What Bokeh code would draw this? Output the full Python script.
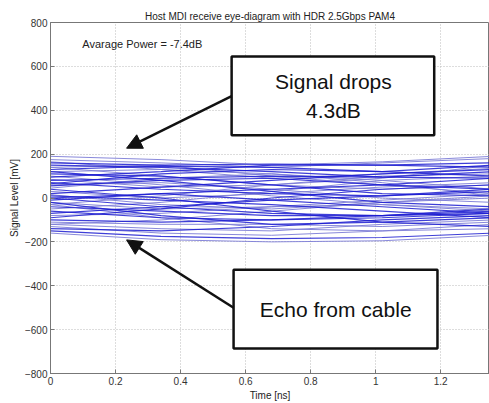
from bokeh.plotting import figure
from bokeh.embed import file_html
from bokeh.resources import INLINE
from bokeh.models import Arrow, NormalHead, BoxAnnotation, Label, FixedTicker

title_text = "Host MDI receive eye-diagram with HDR 2.5Gbps PAM4"
x_label = "Time [ns]"
y_label = "Signal Level [mV]"
power_note = "Avarage Power = -7.4dB"
note_top = "Signal drops\n4.3dB"
note_bottom = "Echo from cable"

x_ticks = [0, 0.2, 0.4, 0.6, 0.8, 1.0, 1.2]
y_ticks = [-800, -600, -400, -200, 0, 200, 400, 600, 800]

# knot times of each trace (ns)
knot_t = [0.0, 0.34, 0.68, 1.02, 1.36]

# traces (mV at knot times)
traces_dark = [
    [160, 150, 155, 150, 160],
    [150, 140, 120, 95, 90],
    [95, 120, 150, 150, 140],
    [80, 90, 100, 95, 120],
    [70, 40, 20, 10, 30],
    [55, 80, 90, 60, 40],
    [20, 50, 80, 110, 130],
    [10, -10, -30, -60, -90],
    [0, -40, -70, -80, -70],
    [-10, 20, 40, 60, 90],
    [-40, -60, -80, -80, -60],
    [-60, -90, -100, -90, -70],
    [-70, -40, -10, 10, 40],
    [-100, -110, -100, -80, -50],
    [-140, -150, -130, -100, -80],
    [-150, -175, -185, -180, -160],
    [120, 80, 30, -20, -40],
    [40, 0, -60, -110, -130],
    [110, 100, 60, 20, 10],
    [-20, -80, -120, -110, -90],
    [65, 110, 130, 120, 100],
    [-90, -50, 0, 40, 60],
    [0, 20, -10, -40, -70],
    [130, 145, 140, 120, 150],
]
traces_light = [
    [190, 175, 150, 165, 190],
    [175, 160, 140, 160, 180],
    [140, 100, 60, 40, 60],
    [120, 130, 110, 80, 40],
    [100, 60, 10, -30, -50],
    [60, 70, 40, 0, -20],
    [30, 0, 20, 50, 70],
    [-20, -50, -40, -10, 20],
    [-30, 10, 60, 100, 110],
    [-80, -70, -40, -30, -60],
    [-110, -120, -120, -130, -110],
    [-120, -100, -60, -20, 0],
    [-130, -160, -170, -150, -120],
    [-160, -190, -200, -195, -170],
    [-50, -20, 30, 80, 100],
    [140, 150, 100, 60, 20],
    [165, 130, 90, 110, 135],
    [85, 50, 60, 90, 150],
    [-30, -90, -140, -150, -140],
    [45, 90, 110, 70, 10],
    [-120, -140, -150, -120, -100],
    [15, -30, -50, -20, 10],
]

p = figure(width=489, height=403, x_range=(0, 1.35), y_range=(-800, 800),
           output_backend="svg", toolbar_location=None,
           min_border_left=50, min_border_right=0, min_border_top=22, min_border_bottom=29)

p.title.text = title_text
p.title.align = "center"
p.title.text_font = "Liberation Sans"
p.title.text_font_size = "10px"
p.title.text_font_style = "normal"
p.title.text_color = "#222222"
p.title.standoff = 2

for tr in traces_light:
    p.line(knot_t, tr, line_color="#7b7bd6", line_width=1, line_alpha=0.9)
for tr in traces_dark:
    p.line(knot_t, tr, line_color="#1c1cd0", line_width=1.2, line_alpha=0.85)

for ax in (p.xaxis[0], p.yaxis[0]):
    ax.axis_line_color = "#777777"
    ax.major_tick_line_color = "#777777"
    ax.major_tick_in = 4
    ax.major_tick_out = 0
    ax.minor_tick_line_color = None
    ax.major_label_text_font = "Liberation Sans"
    ax.major_label_text_font_size = "10px"
    ax.major_label_text_color = "#333333"
    ax.axis_label_text_font = "Liberation Sans"
    ax.axis_label_text_font_size = "10px"
    ax.axis_label_text_font_style = "normal"
    ax.axis_label_text_color = "#222222"
    ax.major_label_standoff = 3
    ax.axis_label_standoff = 2

p.xaxis.ticker = FixedTicker(ticks=x_ticks)
p.yaxis.ticker = FixedTicker(ticks=y_ticks)
p.xaxis.major_label_overrides = {0: "0", 1.0: "1"}
p.xaxis.axis_label = x_label
p.yaxis.axis_label = y_label

p.xgrid.ticker = FixedTicker(ticks=x_ticks)
p.ygrid.ticker = FixedTicker(ticks=y_ticks)
for g in (p.xgrid[0], p.ygrid[0]):
    g.grid_line_color = "#bbbbbb"
    g.grid_line_dash = "1 2"
    g.grid_line_width = 1

p.outline_line_color = "#777777"

p.add_layout(Label(x=0.098, y=700, text=power_note, text_font="Liberation Sans",
                   text_font_size="11px", text_color="#222222", text_baseline="middle"))

# annotation boxes
p.add_layout(BoxAnnotation(left=0.557, right=1.18, bottom=286, top=645,
                           fill_color="white", fill_alpha=1, line_color="#111111",
                           line_alpha=1, line_width=2.5))
p.add_layout(BoxAnnotation(left=0.563, right=1.19, bottom=-686, top=-327,
                           fill_color="white", fill_alpha=1, line_color="#111111",
                           line_alpha=1, line_width=2.5))
p.add_layout(Label(x=0.87, y=465, text=note_top, text_font="Liberation Sans",
                   text_font_size="21px", text_color="#111111", text_align="center",
                   text_baseline="middle", text_line_height=1.3))
p.add_layout(Label(x=0.877, y=-506, text=note_bottom, text_font="Liberation Sans",
                   text_font_size="21px", text_color="#111111", text_align="center",
                   text_baseline="middle"))

p.add_layout(Arrow(x_start=0.557, y_start=464, x_end=0.234, y_end=227, line_width=2.5,
                   line_color="#111111",
                   end=NormalHead(size=15, fill_color="#111111", line_color="#111111")))
p.add_layout(Arrow(x_start=0.563, y_start=-500, x_end=0.234, y_end=-191, line_width=2.5,
                   line_color="#111111",
                   end=NormalHead(size=15, fill_color="#111111", line_color="#111111")))

open("out.html", "w").write(file_html(p, INLINE))
